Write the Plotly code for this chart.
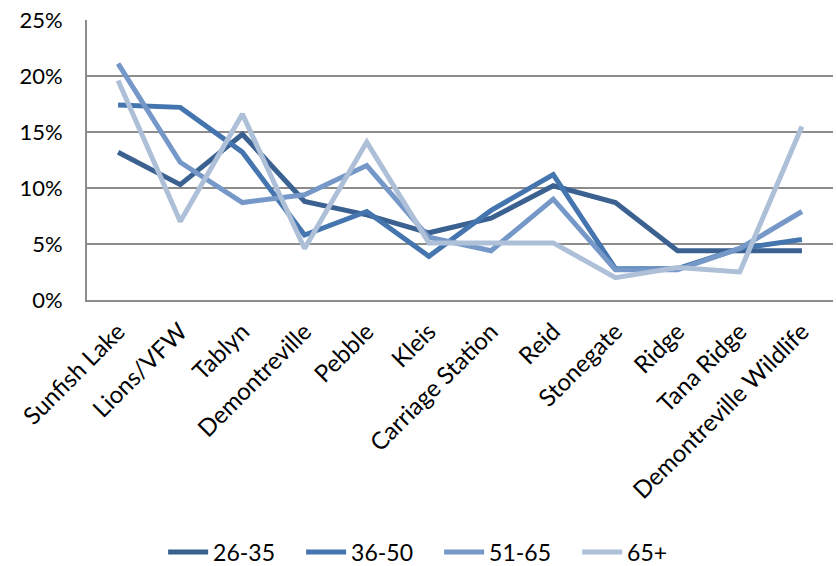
import plotly.graph_objects as go

categories = ["Sunfish Lake", "Lions/VFW", "Tablyn", "Demontreville", "Pebble", "Kleis",
              "Carriage Station", "Reid", "Stonegate", "Ridge", "Tana Ridge", "Demontreville Wildlife"]
s_26_35 = [13.2, 10.3, 14.8, 8.8, 7.6, 6.0, 7.3, 10.2, 8.7, 4.4, 4.4, 4.4]
s_36_50 = [17.4, 17.2, 13.2, 5.8, 7.9, 3.9, 8.0, 11.2, 2.8, 2.8, 4.6, 5.4]
s_51_65 = [21.1, 12.3, 8.7, 9.4, 12.0, 5.6, 4.4, 9.0, 2.7, 2.7, 4.6, 7.9]
s_65_plus = [19.6, 7.0, 16.6, 4.6, 14.1, 5.1, 5.1, 5.1, 2.0, 2.9, 2.5, 15.5]
series_names = ["26-35", "36-50", "51-65", "65+"]
colors = ["#3A6190", "#4475AE", "#7598C8", "#AEBFD8"]

fig = go.Figure()
for name, vals, col in zip(series_names, [s_26_35, s_36_50, s_51_65, s_65_plus], colors):
    fig.add_trace(go.Scatter(x=categories, y=[v / 100 for v in vals], mode="lines", name=name,
                             line=dict(color=col, width=5)))

fig.update_layout(
    width=836, height=566,
    margin=dict(l=87, r=3, t=20, b=266, autoexpand=False),
    paper_bgcolor="white", plot_bgcolor="white",
    font=dict(family="Lato, sans-serif", size=23, color="black"),
    showlegend=True,
    legend=dict(orientation="h", x=0.472, xanchor="center", y=-0.9, yanchor="middle",
                font=dict(size=23), itemwidth=40, entrywidth=83, tracegroupgap=0),
)
fig.update_xaxes(tickangle=-45, showline=True, linecolor="#8c8c8c", linewidth=2,
                 showgrid=False, ticks="", range=[-0.5, 11.5], automargin=False,
                 tickfont=dict(size=24), ticklabelstandoff=6)
fig.update_yaxes(range=[0, 0.25], dtick=0.05, tickformat=".0%", showgrid=True,
                 gridcolor="#8c8c8c", gridwidth=1.5, showline=True, linecolor="#8c8c8c",
                 linewidth=2, ticks="", zeroline=False, automargin=False,
                 tickfont=dict(size=22), ticklabelstandoff=18)
fig.write_html("out.html", config={"displayModeBar": False},
               post_script="document.body.style.margin='0';")
